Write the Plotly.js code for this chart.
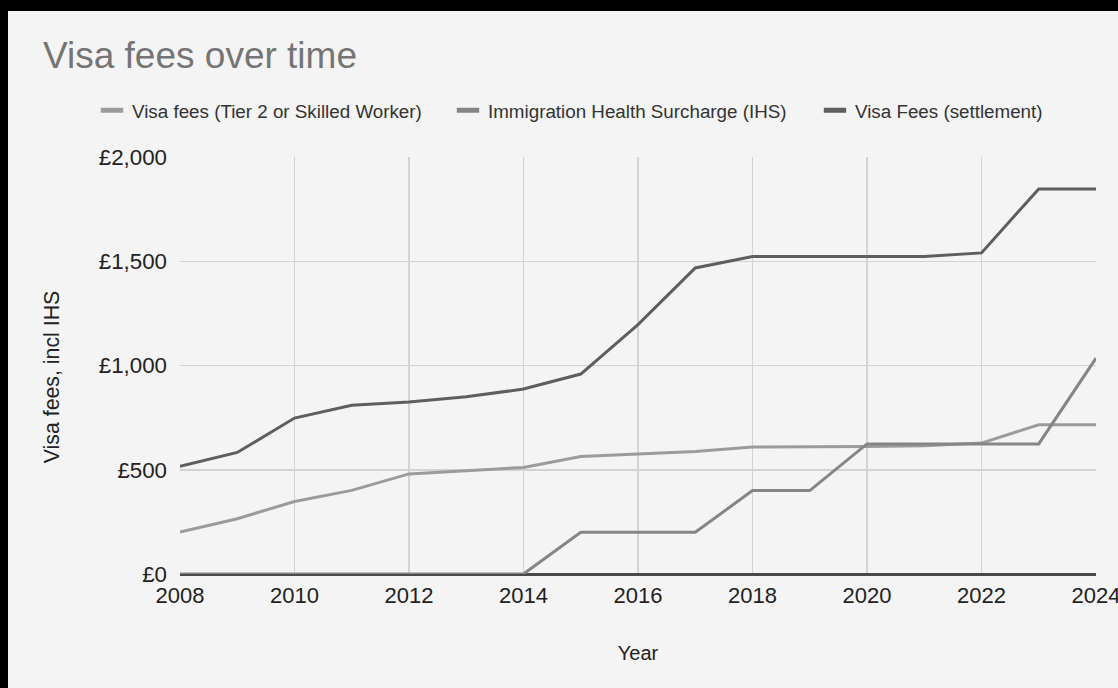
<!DOCTYPE html>
<html>
<head>
<meta charset="utf-8">
<script src="https://cdn.plot.ly/plotly-3.0.1.min.js"></script>
<style>
  html, body { margin: 0; padding: 0; background: #000; width: 1118px; height: 688px; overflow: hidden; }
  #chart { position: absolute; left: 8px; top: 11px; width: 1110px; height: 677px; }
</style>
</head>
<body>
<div id="chart"></div>
<script>
const years = [2008, 2009, 2010, 2011, 2012, 2013, 2014, 2015, 2016, 2017, 2018, 2019, 2020, 2021, 2022, 2023, 2024];
const tier2Fees = [201, 265, 348, 401, 480, 495, 511, 564, 577, 588, 609, 609, 612, 615, 628, 716, 716];
const ihsFees = [0, 0, 0, 0, 0, 0, 0, 200, 200, 200, 400, 400, 624, 624, 624, 624, 1035];
const settlementFees = [516, 583, 748, 809, 825, 850, 887, 959, 1196, 1468, 1523, 1523, 1523, 1523, 1540, 1847, 1847];
const seriesNames = ["Visa fees (Tier 2 or Skilled Worker)", "Immigration Health Surcharge (IHS)", "Visa Fees (settlement)"];
const seriesColors = ["#9b9b9b", "#858585", "#5e5e5e"];
const seriesValues = [tier2Fees, ihsFees, settlementFees];

const legendIds = ["legend", "legend2", "legend3"];
const legendLeft = [84, 440, 807];

const traces = [];
// legend-only swatches (short thick bars)
seriesNames.forEach((name, i) => {
  traces.push({
    x: [null], y: [null], type: "scatter", mode: "markers", name: name,
    marker: { symbol: "line-ew", size: 16, color: seriesColors[i], line: { color: seriesColors[i], width: 5 } },
    legend: legendIds[i],
    hoverinfo: "skip", showlegend: true
  });
});
seriesNames.forEach((name, i) => {
  traces.push({
    x: years, y: seriesValues[i], type: "scatter", mode: "lines", name: name,
    line: { color: seriesColors[i], width: 3 }, showlegend: false
  });
});

const font = "Liberation Sans, Arial, sans-serif";
function legendCfg(left) {
  return {
    orientation: "h", xref: "container", yref: "container",
    x: left / 1110, xanchor: "left", y: 1 - 99.5 / 677, yanchor: "middle",
    font: { family: font, size: 18.8, color: "#333333" },
    bgcolor: "rgba(0,0,0,0)", itemclick: false
  };
}
const layout = {
  width: 1110, height: 677,
  paper_bgcolor: "#f4f4f4", plot_bgcolor: "#f4f4f4",
  margin: { l: 172, r: 22, t: 146, b: 114 },
  font: { family: font, color: "#222222" },
  title: {
    text: "Visa fees over time",
    font: { family: font, size: 37, color: "#757575" },
    x: 35 / 1110, xref: "container", xanchor: "left",
    y: 1 - 44 / 677, yref: "container", yanchor: "middle"
  },
  legend: legendCfg(legendLeft[0]),
  legend2: legendCfg(legendLeft[1]),
  legend3: legendCfg(legendLeft[2]),
  xaxis: {
    range: [2008, 2024], tick0: 2008, dtick: 2, tickformat: "d",
    showgrid: true, gridcolor: "#d3d3d5", gridwidth: 1.5,
    zeroline: false, showline: false, ticks: "",
    tickfont: { family: font, size: 22, color: "#222222" },
    ticklabelstandoff: 6, ticklabeloverflow: "allow", automargin: false,
    title: { text: "Year", font: { family: font, size: 20, color: "#222222" }, standoff: 38 }
  },
  yaxis: {
    range: [0, 2000], tick0: 0, dtick: 500, tickprefix: "£", tickformat: ",d",
    showgrid: true, gridcolor: "#d3d3d5", gridwidth: 1.5,
    zeroline: true, zerolinecolor: "#4a4a4a", zerolinewidth: 3,
    showline: false, ticks: "", automargin: false,
    tickfont: { family: font, size: 22.3, color: "#222222" },
    ticklabelstandoff: 12
  },
  annotations: [{
    text: "Visa fees, incl IHS", textangle: -90, showarrow: false,
    xref: "paper", yref: "paper", x: (44 - 172) / 916, y: (563.3 - 366.5) / 417,
    xanchor: "center", yanchor: "middle",
    font: { family: font, size: 21.3, color: "#222222" }
  }],
  showlegend: true
};

Plotly.newPlot("chart", traces, layout, { staticPlot: true, displayModeBar: false });
</script>
</body>
</html>
